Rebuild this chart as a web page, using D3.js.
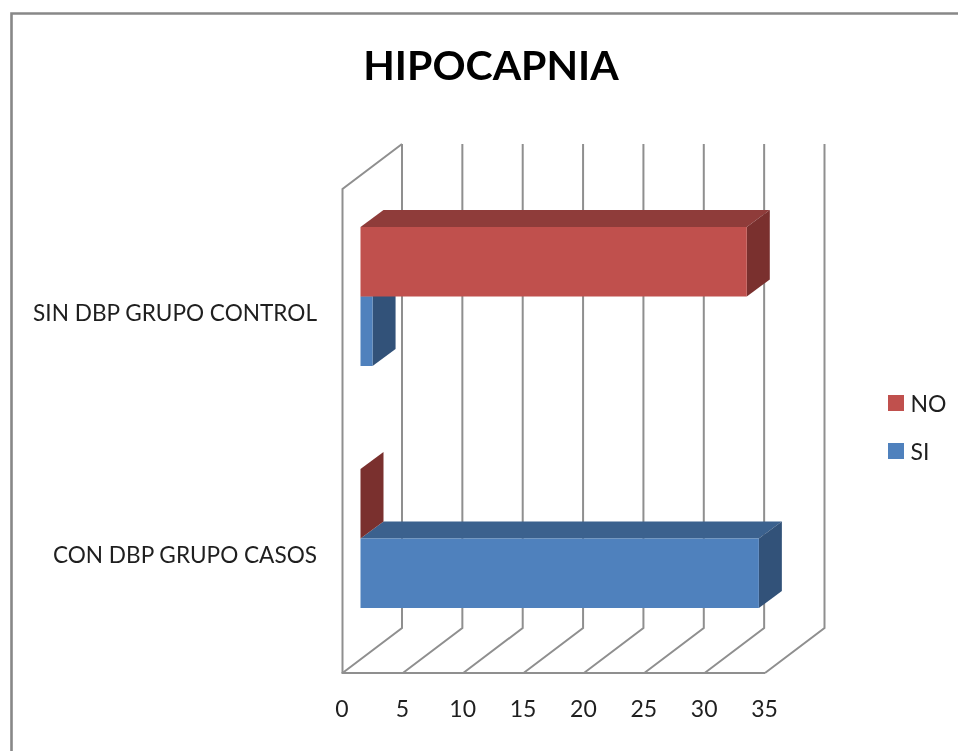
<!DOCTYPE html>
<html>
<head>
<meta charset="utf-8">
<script src="https://cdn.jsdelivr.net/npm/d3@7"></script>
<style>
html,body{margin:0;padding:0;background:#fff;overflow:hidden}
svg{display:block;filter:blur(0.45px)}
text{font-family:Lato,"Open Sans",sans-serif;fill:#1f1f1f}
</style>
</head>
<body>
<svg id="c" width="958" height="751"></svg>
<script>
const title = "HIPOCAPNIA";
const categories = ["CON DBP GRUPO CASOS", "SIN DBP GRUPO CONTROL"];
const seriesNames = ["SI", "NO"];
const siValues = [33, 1];
const noValues = [0, 32];
const xTicks = [0, 5, 10, 15, 20, 25, 30, 35];
const legendOrder = ["NO", "SI"];
const colors = {
  SI: {front: "#4F81BD", top: "#3B618E", side: "#325279"},
  NO: {front: "#C0504D", top: "#8F3C3A", side: "#7A302E"}
};

const svg = d3.select("#c");
const gridColor = "#8f8f8f";

// Chart frame
svg.append("path").attr("d", "M11.5 751V13.5H958")
  .attr("fill", "none").attr("stroke", "#888").attr("stroke-width", 2.6);

// Title
svg.append("text").attr("x", 491).attr("y", 80).attr("text-anchor", "middle")
  .attr("font-size", 41).attr("font-weight", 700)
  .style("fill", "#000").text(title);

// Scales
const x = d3.scaleLinear().domain([0, 35]).range([342.5, 765]);
const y = d3.scaleBand().domain(categories).range([673, 189]);
const y2 = d3.scaleBand().domain(["NO", "SI"]).range([0, y.bandwidth()]).paddingInner(0).paddingOuter(0.741);

const wall = {dx: 59.5, dy: -45};   // floor depth
const barOff = {dx: 18, dy: -13.5}; // bar's front plane relative to the floor front
const barDepth = {dx: 23, dy: -17}; // bar thickness
const top0 = y.range()[1], bot0 = y.range()[0];

const line = d3.line();
const grid = svg.append("g").attr("fill", "none").attr("stroke", gridColor);

// Left wall
grid.append("path").attr("stroke-width", 2).attr("d", line([
  [x(0), bot0], [x(0), top0], [x(0) + wall.dx, top0 + wall.dy]
]));
// Back-wall gridlines and floor diagonals
grid.selectAll(".g").data(xTicks).join("path").attr("class", "g")
  .attr("stroke-width", 2)
  .attr("d", t => line([
    [x(t) + wall.dx, top0 + wall.dy],
    [x(t) + wall.dx, bot0 + wall.dy],
    [x(t), bot0]
  ]));
// Floor front edge
grid.append("path").attr("stroke-width", 2.2).attr("d", line([[x(0) - 1, bot0], [x(35), bot0]]));

// Bars
const bars = svg.append("g");
function drawBar(cat, name, v) {
  const c = colors[name];
  const x0 = x(0) + barOff.dx, x1 = x(v) + barOff.dx;
  const y0 = y(cat) + y2(name) + barOff.dy, y1 = y0 + y2.bandwidth();
  const d = barDepth;
  const g = bars.append("g");
  g.append("path").attr("fill", c.top).attr("d", line([
    [x0, y0], [x1, y0], [x1 + d.dx, y0 + d.dy], [x0 + d.dx, y0 + d.dy]
  ]) + "Z");
  g.append("path").attr("fill", c.side).attr("d", line([
    [x1, y0], [x1 + d.dx, y0 + d.dy], [x1 + d.dx, y1 + d.dy], [x1, y1]
  ]) + "Z");
  g.append("rect").attr("x", x0).attr("y", y0)
    .attr("width", x1 - x0).attr("height", y1 - y0).attr("fill", c.front);
}
categories.forEach((cat, i) => {
  drawBar(cat, "SI", siValues[i]);
});
categories.forEach((cat, i) => {
  drawBar(cat, "NO", noValues[i]);
});

// X axis labels
const ax = svg.append("g").attr("transform", `translate(-1,${bot0})`)
  .call(d3.axisBottom(x).tickValues(xTicks).tickSize(0).tickPadding(28));
ax.select(".domain").remove();
ax.selectAll("text").attr("font-size", 23).style("font-family", "Lato,sans-serif").style("fill", "#1f1f1f");

// Category labels
svg.append("g").selectAll("text").data(categories).join("text")
  .attr("x", 317).attr("y", c => y(c) + y.bandwidth() / 2 + 10.5)
  .attr("text-anchor", "end").attr("font-size", 22.6).text(c => c);

// Legend
const lg = d3.scaleBand().domain(legendOrder).range([379, 475]);
const items = svg.append("g").selectAll("g").data(legendOrder).join("g")
  .attr("transform", d => `translate(888,${lg(d) + lg.bandwidth() / 2})`);
items.append("rect").attr("y", -8).attr("width", 16).attr("height", 16).attr("fill", d => colors[d].front);
items.append("text").attr("x", 22.5).attr("y", 8.5).attr("font-size", 23).text(d => d);
</script>
</body>
</html>
